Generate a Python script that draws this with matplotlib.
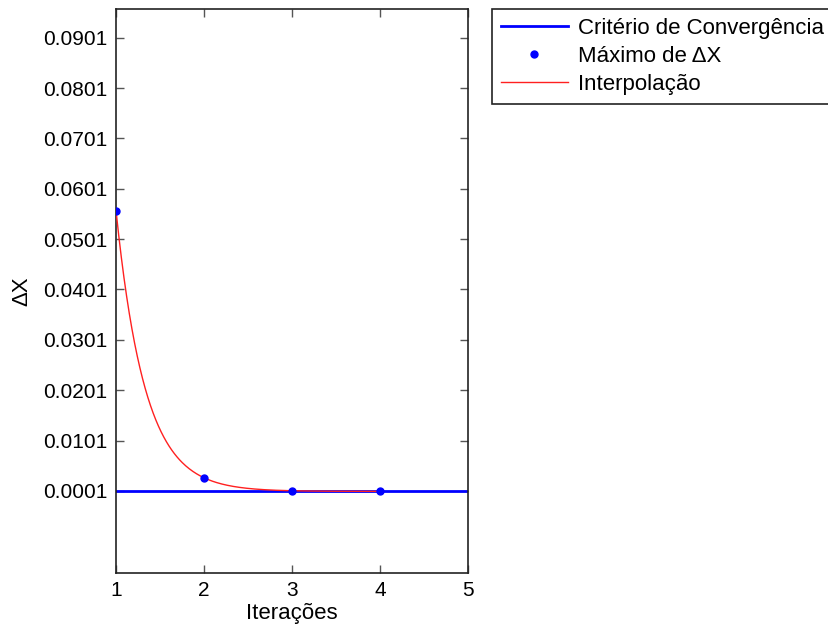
import numpy as np
import matplotlib
matplotlib.use('Agg')
from matplotlib import pyplot as plt

plt.rcParams['font.family'] = ['Liberation Sans', 'DejaVu Sans']

# data
iteracoes = [1, 2, 3, 4]
max_dx = [0.0557, 0.0027, 0.00012, 0.00005]
criterio = 0.0001
y_ticks = [0.0001, 0.0101, 0.0201, 0.0301, 0.0401, 0.0501, 0.0601, 0.0701, 0.0801, 0.0901]
x_ticks = [1, 2, 3, 4, 5]

# exponential interpolation of the maxima (log fit weighted by value)
xs = np.array(iteracoes, dtype=float)
ys = np.array(max_dx)
coef = np.polyfit(xs, np.log(ys), 1, w=ys)
x_fit = np.linspace(xs[0], xs[-1], 300)
y_fit = np.exp(np.polyval(coef, x_fit))

fig = plt.figure(figsize=(8.29, 6.3), dpi=100)
ax = fig.add_axes([0.140, 0.0905, 0.4245, 0.8945])

l1 = ax.axhline(criterio, color='#0000ff', lw=2, label='Critério de Convergência', zorder=2)
l2, = ax.plot(iteracoes, max_dx, '.', color='#0000ff', ms=10, label='Máximo de ΔX', zorder=4)
l3, = ax.plot(x_fit, y_fit, '-', color='#ff2020', lw=1, label='Interpolação', zorder=3)

ax.set_xlim(1, 5)
ax.set_ylim(-0.0162, 0.0957)
ax.set_xticks(x_ticks)
ax.set_yticks(y_ticks)
ax.set_yticklabels(['%.4f' % v for v in y_ticks])
ax.tick_params(direction='in', top=True, right=True, length=6, width=1, color='#555555', labelsize=15, pad=6)
for s in ax.spines.values():
    s.set_linewidth(1.2)
    s.set_color('#222222')

ax.set_xlabel('Iterações', fontsize=16, labelpad=2)
ax.set_ylabel('ΔX', fontsize=16, labelpad=8)

leg = fig.legend(handles=[l1, l2, l3], loc='upper left', bbox_to_anchor=(492 / 829, 1 - 9 / 630),
                 fontsize=16, frameon=True, fancybox=False, framealpha=1, edgecolor='#222222',
                 borderpad=0.4, labelspacing=0.32, handlelength=3.0, handletextpad=0.45, borderaxespad=0)
leg.get_frame().set_linewidth(1.2)

fig.savefig('out.png', dpi=100)
